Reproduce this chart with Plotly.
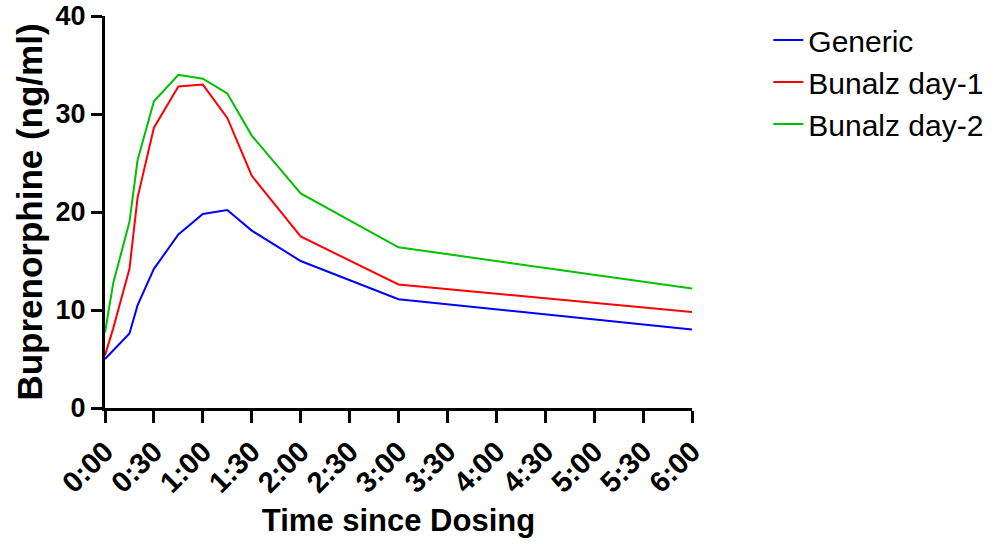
import plotly.graph_objects as go

# Time since dosing (minutes)
time_min = [0, 5, 15, 20, 30, 45, 60, 75, 90, 120, 180, 360]
generic = [5.0, 5.9, 7.6, 10.5, 14.2, 17.7, 19.8, 20.2, 18.1, 15.0, 11.1, 8.0]
bunalz_day1 = [5.35, 8.1, 14.2, 21.5, 28.6, 32.8, 33.0, 29.6, 23.7, 17.5, 12.6, 9.8]
bunalz_day2 = [7.7, 12.7, 19.0, 25.3, 31.3, 34.0, 33.6, 32.1, 27.8, 21.9, 16.4, 12.2]

tick_vals = [0, 30, 60, 90, 120, 150, 180, 210, 240, 270, 300, 330, 360]
tick_text = ["0:00", "0:30", "1:00", "1:30", "2:00", "2:30", "3:00",
             "3:30", "4:00", "4:30", "5:00", "5:30", "6:00"]
y_ticks = [0, 10, 20, 30, 40]

series = [
    ("Generic", generic, "#0000FF"),
    ("Bunalz day-1", bunalz_day1, "#FF0000"),
    ("Bunalz day-2", bunalz_day2, "#00C000"),
]

fig = go.Figure()
for name, vals, color in series:
    fig.add_trace(go.Scatter(x=time_min, y=vals, mode="lines", name=name,
                             line=dict(color=color, width=2)))

bold = dict(family="Liberation Sans, Arial, sans-serif", color="black", weight="bold")

fig.update_layout(
    width=1006, height=544,
    margin=dict(l=105, r=314, t=16, b=136, autoexpand=False),
    paper_bgcolor="white", plot_bgcolor="white",
    showlegend=True,
    legend=dict(x=1.13, y=1.005, xanchor="left", yanchor="top",
                font=dict(family="Liberation Sans, Arial, sans-serif", size=30, color="black"),
                tracegroupgap=0, itemwidth=30),
    xaxis=dict(range=[0, 360], tickvals=tick_vals, ticktext=tick_text,
               tickangle=-45, showgrid=False, zeroline=False, automargin=False,
               showline=True, linecolor="black", linewidth=3,
               ticks="outside", ticklen=12, tickwidth=3, tickcolor="black",
               ticklabeloverflow="allow",
               tickfont=dict(size=29, **bold),
               title=dict(text="Time since Dosing", font=dict(size=31, **bold), standoff=12)),
    yaxis=dict(range=[0, 40], tickvals=y_ticks,
               showgrid=False, zeroline=False, automargin=False,
               showline=True, linecolor="black", linewidth=3,
               ticks="outside", ticklen=11, tickwidth=3, tickcolor="black",
               ticklabeloverflow="allow",
               tickfont=dict(size=27, **bold),
               title=dict(text="Buprenorphine (ng/ml)", font=dict(size=35, **bold), standoff=3)),
)

fig.write_html("out.html", config={"displayModeBar": False},
               post_script="document.body.style.margin='0';document.body.style.padding='0';")
